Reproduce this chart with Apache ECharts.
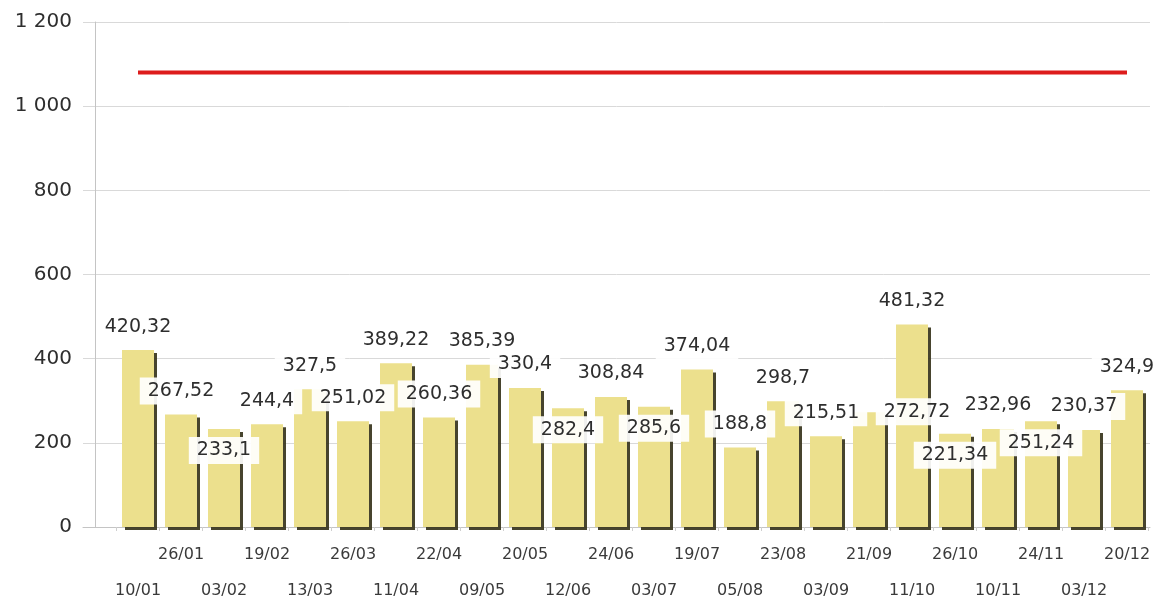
<!DOCTYPE html>
<html>
<head>
<meta charset="utf-8">
<script src="https://cdn.jsdelivr.net/npm/echarts@6/dist/echarts.min.js"></script>
<style>
  html, body { margin: 0; padding: 0; background: #fff; }
  #chart { width: 1170px; height: 602px; }
</style>
</head>
<body>
<div id="chart"></div>
<script>
// dates on the x axis (dd/mm)
const categories = ['10/01', '26/01', '03/02', '19/02', '13/03', '26/03', '11/04', '22/04',
  '09/05', '20/05', '12/06', '24/06', '03/07', '19/07', '05/08', '23/08',
  '03/09', '21/09', '11/10', '26/10', '10/11', '24/11', '03/12', '20/12'];
// bar values
const values = [420.32, 267.52, 233.1, 244.4, 327.5, 251.02, 389.22, 260.36,
  385.39, 330.4, 282.4, 308.84, 285.6, 374.04, 188.8, 298.7,
  215.51, 272.72, 481.32, 221.34, 232.96, 251.24, 230.37, 324.9];
// red limit line
const limitValues = [1080, 1080, 1080, 1080, 1080, 1080, 1080, 1080,
  1080, 1080, 1080, 1080, 1080, 1080, 1080, 1080,
  1080, 1080, 1080, 1080, 1080, 1080, 1080, 1080];
// y axis ticks
const yMin = 0;
const yMax = 1200;
const yStep = 200;

const font = 'DejaVu Sans';

// labels that sit over the bar top instead of above it
const labelInside = [2, 10, 12, 19, 21];
const labelShifted = { 17: [48, 23] };

const barData = values.map((v, i) => {
  const item = { value: v };
  if (labelInside.indexOf(i) >= 0) {
    item.label = { offset: [0, 45] };
  } else if (labelShifted[i]) {
    item.label = { offset: labelShifted[i] };
  }
  return item;
});

const myChart = echarts.init(document.getElementById('chart'), null, { renderer: 'canvas' });

const option = {
  backgroundColor: '#ffffff',
  animation: false,
  grid: [
    { left: 116.5, right: 21.5, top: 22, bottom: 75, outerBoundsMode: 'none', containLabel: false },
    // wider grid only for the horizontal grid lines
    { left: 83, right: 20, top: 22, bottom: 75, outerBoundsMode: 'none', containLabel: false },
  ],
  xAxis: [
    {
      type: 'category',
      gridIndex: 0,
      data: categories,
      boundaryGap: true,
      axisLine: { show: true, lineStyle: { color: '#c4c4c4', width: 1 } },
      axisTick: { show: true, length: 4, lineStyle: { color: '#cfcfcf' } },
      axisLabel: {
        interval: 0,
        margin: 10,
        fontFamily: font,
        fontSize: 16,
        color: '#3a3a3a',
        lineHeight: 36,
        formatter: function (value, index) {
          return index % 2 === 0 ? '\n' + value : value;
        },
      },
    },
    {
      type: 'value',
      gridIndex: 1,
      min: 0,
      max: 1,
      axisLine: { show: true, lineStyle: { color: '#c4c4c4', width: 1 } },
      axisTick: { show: false },
      axisLabel: { show: false },
      splitLine: { show: false },
    },
  ],
  yAxis: [
    {
      type: 'value',
      gridIndex: 0,
      min: yMin,
      max: yMax,
      interval: yStep,
      offset: 21.5,
      axisLine: { show: true, lineStyle: { color: '#c4c4c4', width: 1 } },
      axisTick: { show: false },
      splitLine: { show: false },
      axisLabel: {
        margin: 23,
        fontFamily: font,
        fontSize: 20,
        color: '#2e2e2e',
        formatter: function (v) {
          return String(v).replace(/\B(?=(\d{3})+(?!\d))/g, ' ');
        },
      },
    },
    {
      type: 'value',
      gridIndex: 1,
      min: yMin,
      max: yMax,
      interval: yStep,
      axisLine: { show: false },
      axisTick: { show: false },
      axisLabel: { show: false },
      splitLine: { show: true, lineStyle: { color: '#d9d9d9', width: 1 } },
    },
  ],
  series: [
    {
      type: 'bar',
      xAxisIndex: 0,
      yAxisIndex: 0,
      data: barData,
      barWidth: 32,
      itemStyle: {
        color: '#ece08d',
        shadowColor: 'rgba(55, 52, 28, 0.92)',
        shadowBlur: 0,
        shadowOffsetX: 3,
        shadowOffsetY: 3,
      },
      label: {
        show: true,
        position: 'top',
        distance: 10,
        fontFamily: font,
        fontSize: 19,
        color: '#2e2e2e',
        backgroundColor: 'rgba(255,255,255,0.92)',
        padding: [4, 8],
        formatter: function (p) {
          return String(p.value).replace('.', ',');
        },
      },
      z: 2,
    },
    {
      type: 'line',
      xAxisIndex: 0,
      yAxisIndex: 0,
      data: limitValues,
      symbol: 'none',
      lineStyle: { color: '#dd1c1c', width: 4 },
      z: 3,
    },
  ],
};

myChart.setOption(option);
</script>
</body>
</html>
